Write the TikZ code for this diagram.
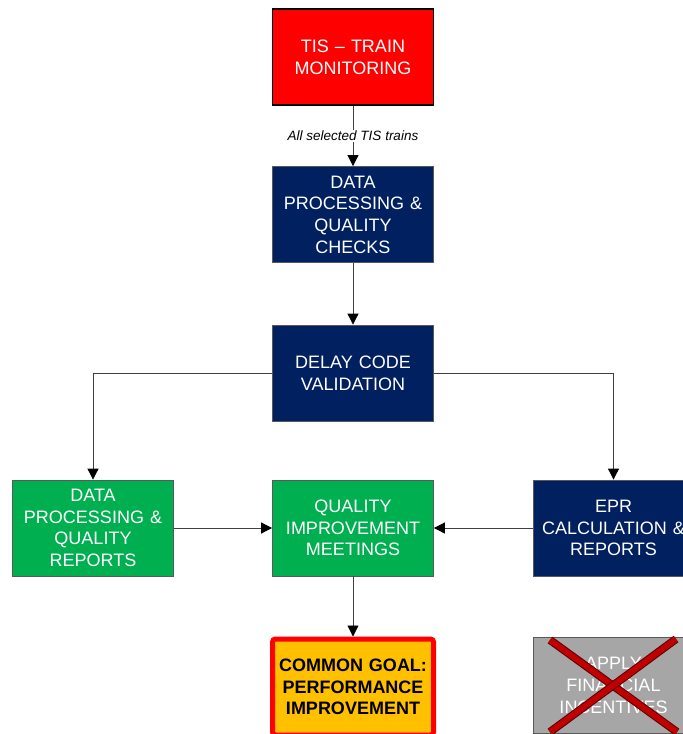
\documentclass[tikz,border=0pt]{standalone}
\usepackage{fontspec}
\setmainfont{Liberation Sans}
\usepackage{tikz}
\usetikzlibrary{arrows.meta}

\definecolor{tisred}{HTML}{FF0000}
\definecolor{navy}{HTML}{002060}
\definecolor{okgreen}{HTML}{00B050}
\definecolor{goalorange}{HTML}{FFC000}
\definecolor{dropgray}{HTML}{A6A6A6}
\definecolor{crossred}{HTML}{C00000}

\tikzset{
    box/.style={draw=black!65, line width=0.8pt, minimum width=161pt, minimum height=96pt,
        text width=158pt, inner sep=1pt, align=center, text=white,
        font=\fontsize{18}{21.7}\selectfont},
    navybox/.style={box, fill=navy},
    greenbox/.style={box, fill=okgreen},
    link/.style={draw=black!75, line width=0.8pt, -{Triangle[length=11pt,width=11pt,color=black]}},
}

\begin{document}
\begin{tikzpicture}[x=1pt,y=-1pt]
        \useasboundingbox[fill=white] (0,0) rectangle (683,734);
        \node[box, fill=tisred, draw=black, line width=1.6pt] (tis) at (353,57) {TIS – TRAIN\\MONITORING};
        \node[navybox] (checks) at (353,214.5) {DATA\\PROCESSING \&\\QUALITY\\CHECKS};
        \node[navybox] (delay) at (353,373) {DELAY CODE\\VALIDATION};
        \node[greenbox] (reports) at (93,528) {DATA\\PROCESSING \&\\QUALITY\\REPORTS};
        \node[greenbox] (meetings) at (353,528) {QUALITY\\IMPROVEMENT\\MEETINGS};
        \node[navybox] (epr) at (613.5,528) {EPR\\CALCULATION \&\\REPORTS};
        \node[box, fill=goalorange, draw=tisred, line width=5pt, rounded corners=3pt, text=black,
            font=\fontsize{18}{21.7}\selectfont\bfseries] (goal) at (353,687) {COMMON GOAL:\\PERFORMANCE\\IMPROVEMENT};
        \node[box, fill=dropgray] (incent) at (613.5,685.5) {APPLY\\FINANCIAL\\INCENTIVES};
        \draw[link] (tis) -- node[fill=white, inner sep=1pt, font=\fontsize{13.5}{15}\selectfont\itshape] {All selected TIS trains} (checks);
        \draw[link] (checks) -- (delay);
        \draw[link] (delay.west) -| (reports.north);
        \draw[link] (delay.east) -| (epr.north);
        \draw[link] (reports) -- (meetings);
        \draw[link] (epr) -- (meetings);
        \draw[link] (meetings) -- (goal);
        \foreach \a/\b in {{550,640}/{677,732},{676,639}/{550,732}} {
            \draw[black!55!crossred, line width=8pt] (\a) -- (\b);
            \draw[crossred, line width=6pt] (\a) -- (\b);
        }
    \end{tikzpicture}
\end{document}
